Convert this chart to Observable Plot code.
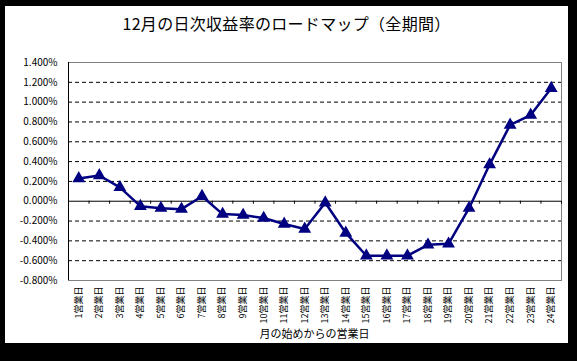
<!DOCTYPE html>
<html><head><meta charset="utf-8">
<script src="https://cdn.jsdelivr.net/npm/d3@7"></script>
<script src="https://cdn.jsdelivr.net/npm/@observablehq/plot@0.6"></script>
<style>
html,body{margin:0;padding:0;background:#000;width:577px;height:361px;overflow:hidden;}
#box{position:absolute;left:5px;top:6px;width:563px;height:337px;background:#fff;}
#title{position:absolute;left:0;top:5px;width:563px;text-align:center;font:16px "Noto Sans CJK JP",sans-serif;letter-spacing:0.3px;color:#000;}
#xtitle{position:absolute;left:63px;width:493px;top:319px;text-align:center;font:11px "Noto Sans CJK JP",sans-serif;color:#000;}
#chart{position:absolute;left:0;top:0;}
</style></head>
<body>
<div id="box">
<div id="chart"></div>
<div id="title">12月の日次収益率のロードマップ（全期間）</div>
<div id="xtitle">月の始めからの営業日</div>
</div>
<script>
const days = d3.range(1, 25);
const returns = [0.23, 0.26, 0.14, -0.05, -0.07, -0.08, 0.05, -0.13, -0.14, -0.17, -0.23, -0.28,
  -0.015, -0.32, -0.55, -0.55, -0.55, -0.44, -0.43, -0.07, 0.37, 0.77, 0.87, 1.14];
const yTicks = [-0.8, -0.6, -0.4, -0.2, 0, 0.2, 0.4, 0.6, 0.8, 1.0, 1.2, 1.4];
const tickSuffix = "%";
const dayLabelSuffix = "営業日";

const data = days.map((d, i) => ({day: d, value: returns[i]}));
const boundaries = d3.range(0.5, 25, 1);
const dashed = yTicks.filter(t => t !== 0 && t !== yTicks[0] && t !== yTicks[yTicks.length - 1]);

const chart = Plot.plot({
  width: 563,
  height: 337,
  marginLeft: 63,
  marginRight: 7,
  marginTop: 56,
  marginBottom: 63,
  style: {fontFamily: '"Noto Sans CJK JP", sans-serif', background: "transparent", color: "#000"},
  x: {type: "linear", domain: [0.5, 24.5]},
  y: {domain: [yTicks[0], yTicks[yTicks.length - 1]]},
  marks: [
    Plot.ruleY(dashed, {stroke: "#000", strokeDasharray: "4,3", strokeWidth: 1}),
    Plot.frame({stroke: "#808080"}),
    Plot.ruleX([0.5], {stroke: "#000"}),
    Plot.ruleY([0], {stroke: "#000"}),
    Plot.ruleX(boundaries, {y1: 0, y2: -0.03, stroke: "#000"}),
    Plot.axisY({ticks: yTicks, tickFormat: d => d.toFixed(3) + tickSuffix, tickSize: 0, tickPadding: 11, fontSize: 10, label: null}),
    Plot.axisX({ticks: days, tickFormat: d => d + dayLabelSuffix, tickRotate: -90, tickSize: 0, tickPadding: 6, fontSize: 9, label: null}),
    Plot.line(data, {x: "day", y: "value", stroke: "#000080", strokeWidth: 2.5}),
    Plot.dot(data, {x: "day", y: "value", symbol: "triangle", r: 3.8, fill: "#000080", stroke: "#000080"})
  ]
});
document.getElementById("chart").appendChild(chart);
</script>
</body></html>
